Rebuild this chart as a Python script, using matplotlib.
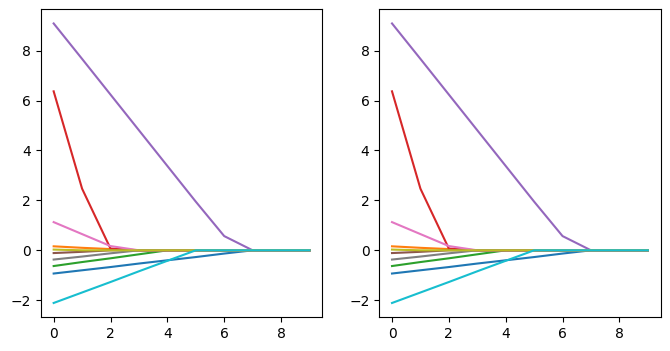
import numpy as np
import matplotlib
matplotlib.use('Agg')
import matplotlib.pyplot as plt

# iteration index
steps = np.arange(10)

# one trajectory per coefficient
c0 = [-0.93, -0.80, -0.67, -0.53, -0.40, -0.27, -0.13, 0.0, 0.0, 0.0]
c1 = [0.16, 0.10, 0.05, 0.0, 0.0, 0.0, 0.0, 0.0, 0.0, 0.0]
c2 = [-0.63, -0.47, -0.32, -0.16, 0.0, 0.0, 0.0, 0.0, 0.0, 0.0]
c3 = [6.37, 2.47, 0.07, 0.0, 0.0, 0.0, 0.0, 0.0, 0.0, 0.0]
c4 = [9.09, 7.67, 6.24, 4.81, 3.38, 1.95, 0.57, 0.0, 0.0, 0.0]
c5 = [-0.11, -0.06, 0.0, 0.0, 0.0, 0.0, 0.0, 0.0, 0.0, 0.0]
c6 = [1.13, 0.65, 0.17, 0.0, 0.0, 0.0, 0.0, 0.0, 0.0, 0.0]
c7 = [-0.37, -0.25, -0.12, 0.0, 0.0, 0.0, 0.0, 0.0, 0.0, 0.0]
c8 = [0.03, 0.0, 0.0, 0.0, 0.0, 0.0, 0.0, 0.0, 0.0, 0.0]
c9 = [-2.11, -1.69, -1.27, -0.84, -0.42, 0.0, 0.0, 0.0, 0.0, 0.0]

paths = np.array([c0, c1, c2, c3, c4, c5, c6, c7, c8, c9])

fig = plt.figure(figsize=(6.7, 3.51), dpi=100)
ax1 = fig.add_axes([0.061, 0.097, 0.420, 0.876])
ax2 = fig.add_axes([0.566, 0.097, 0.420, 0.876])

for ax in (ax1, ax2):
    ax.plot(steps, paths.T)

fig.savefig('out.png', dpi=100)
